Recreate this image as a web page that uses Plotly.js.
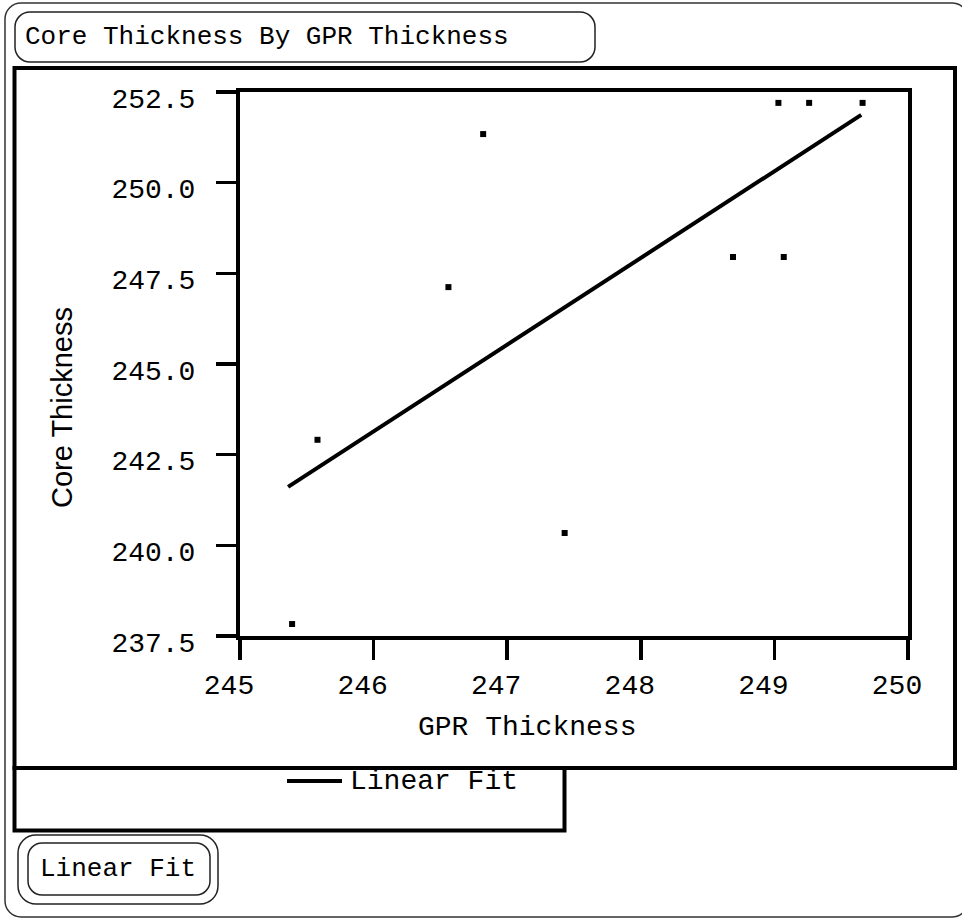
<!DOCTYPE html>
<html>
<head>
<meta charset="utf-8">
<script src="https://cdn.plot.ly/plotly-3.0.1.min.js"></script>
<style>
  html, body { margin: 0; padding: 0; background: #ffffff; }
  #chart { width: 962px; height: 919px; }
</style>
</head>
<body>
<div id="chart"></div>
<script>
// Observations: GPR thickness vs. core thickness
const gprThickness  = [245.39, 245.58, 246.56, 246.82, 247.43, 248.69, 249.07, 249.03, 249.26, 249.66];
const coreThickness = [237.83, 242.91, 247.12, 251.34, 240.34, 247.95, 247.95, 252.20, 252.20, 252.20];

// Linear fit line end points
const fitGpr  = [245.36, 249.65];
const fitCore = [241.61, 251.87];

// Axis ticks
const xTickVals   = [245, 246, 247, 248, 249, 250];
const xTickLabels = ['245', '246', '247', '248', '249', '250'];
const yTickVals   = [237.5, 240.0, 242.5, 245.0, 247.5, 250.0, 252.5];
const yTickLabels = ['237.5', '240.0', '242.5', '245.0', '247.5', '250.0', '252.5'];

const reportTitle = 'Core Thickness By GPR Thickness';
const xTitle = 'GPR Thickness';
const yTitle = 'Core Thickness';
const fitName = 'Linear Fit';

// Page geometry (pixels) of the plotting rectangle
const W = 962, H = 919;
const PL = 240, PR = 908, PT = 92, PB = 636;
const fx = p => (p - PL) / (PR - PL);
const fy = p => (PB - p) / (PB - PT);

const MONO = '"Liberation Mono", "Courier New", Courier, monospace';
const SANS = '"Liberation Sans", Arial, Helvetica, sans-serif';

// Rounded rectangle outline in paper coordinates, given in page pixels
function roundRect(x0, y0, x1, y1, r) {
  const k = 0.5523 * r;
  const P = (x, y) => fx(x).toFixed(5) + ',' + fy(y).toFixed(5);
  return 'M' + P(x0 + r, y0) +
    ' L' + P(x1 - r, y0) +
    ' C' + P(x1 - r + k, y0) + ' ' + P(x1, y0 + r - k) + ' ' + P(x1, y0 + r) +
    ' L' + P(x1, y1 - r) +
    ' C' + P(x1, y1 - r + k) + ' ' + P(x1 - r + k, y1) + ' ' + P(x1 - r, y1) +
    ' L' + P(x0 + r, y1) +
    ' C' + P(x0 + r - k, y1) + ' ' + P(x0, y1 - r + k) + ' ' + P(x0, y1 - r) +
    ' L' + P(x0, y0 + r) +
    ' C' + P(x0, y0 + r - k) + ' ' + P(x0 + r - k, y0) + ' ' + P(x0 + r, y0) + ' Z';
}

function pathShape(d, width, color) {
  return { type: 'path', xref: 'paper', yref: 'paper', path: d,
           line: { color: color, width: width }, fillcolor: 'rgba(0,0,0,0)', layer: 'above' };
}
function rectShape(x0, y0, x1, y1, width) {
  return { type: 'rect', xref: 'paper', yref: 'paper',
           x0: fx(x0), x1: fx(x1), y0: fy(y0), y1: fy(y1),
           line: { color: '#000', width: width }, fillcolor: 'rgba(0,0,0,0)', layer: 'above' };
}

const traces = [
  {
    x: gprThickness, y: coreThickness, type: 'scatter', mode: 'markers',
    marker: { symbol: 'square', size: 6, color: '#000' },
    showlegend: false, hoverinfo: 'x+y'
  },
  {
    x: fitGpr, y: fitCore, type: 'scatter', mode: 'lines', name: fitName,
    line: { color: '#000', width: 4 }, showlegend: false
  }
];

const shapes = [
  pathShape(roundRect(5, 3, 968, 917, 16), 1.5, '#333'),     // report outline
  pathShape(roundRect(15, 12, 595, 62, 15), 1.5, '#222'),    // title outline
  rectShape(14.5, 68, 955, 768, 4),                          // graph frame
  rectShape(14.5, 768, 564.5, 830.5, 4),                     // legend frame
  pathShape(roundRect(18, 835, 218, 904, 18), 1.5, '#222'),  // fit outline (outer)
  pathShape(roundRect(28, 843, 210, 895, 14), 1.5, '#222'),  // fit outline (inner)
  { type: 'line', xref: 'paper', yref: 'paper',
    x0: fx(287), x1: fx(342), y0: fy(781), y1: fy(781),
    line: { color: '#000', width: 4 }, layer: 'above' }        // legend sample
];

const annotations = [
  { text: reportTitle, xref: 'paper', yref: 'paper', x: fx(23), y: fy(37),
    xanchor: 'left', yanchor: 'middle', showarrow: false,
    font: { family: MONO, size: 26, color: '#000' } },
  { text: xTitle, xref: 'paper', yref: 'paper', x: fx(527), y: fy(727),
    xanchor: 'center', yanchor: 'middle', showarrow: false,
    font: { family: MONO, size: 28, color: '#000' } },
  { text: yTitle, xref: 'paper', yref: 'paper', x: fx(62), y: fy(408),
    xanchor: 'center', yanchor: 'middle', showarrow: false, textangle: -90,
    font: { family: SANS, size: 29, color: '#000' } },
  { text: fitName, xref: 'paper', yref: 'paper', x: fx(348), y: fy(781),
    xanchor: 'left', yanchor: 'middle', showarrow: false,
    font: { family: MONO, size: 28, color: '#000' } },
  { text: fitName, xref: 'paper', yref: 'paper', x: fx(38), y: fy(869),
    xanchor: 'left', yanchor: 'middle', showarrow: false,
    font: { family: MONO, size: 26, color: '#000' } }
];

const layout = {
  width: W, height: H,
  margin: { l: PL, r: W - PR, t: PT, b: H - PB, pad: 0 },
  paper_bgcolor: '#fff', plot_bgcolor: '#fff',
  showlegend: false,
  xaxis: {
    range: [245, 250], tickvals: xTickVals, ticktext: xTickLabels,
    ticks: 'outside', ticklen: 20, tickwidth: 3.5, tickcolor: '#000',
    ticklabelshift: -11,
    showline: true, linewidth: 4, linecolor: '#000', mirror: true,
    showgrid: false, zeroline: false,
    tickfont: { family: MONO, size: 28, color: '#000' }
  },
  yaxis: {
    range: [237.5, 252.5], tickvals: yTickVals, ticktext: yTickLabels,
    ticks: 'outside', ticklen: 20, tickwidth: 3.5, tickcolor: '#000',
    ticklabelstandoff: 15, ticklabelshift: 6,
    showline: true, linewidth: 4, linecolor: '#000', mirror: true,
    showgrid: false, zeroline: false,
    tickfont: { family: MONO, size: 28, color: '#000' }
  },
  shapes: shapes,
  annotations: annotations
};

Plotly.newPlot('chart', traces, layout, { displayModeBar: false, staticPlot: true });
</script>
</body>
</html>
